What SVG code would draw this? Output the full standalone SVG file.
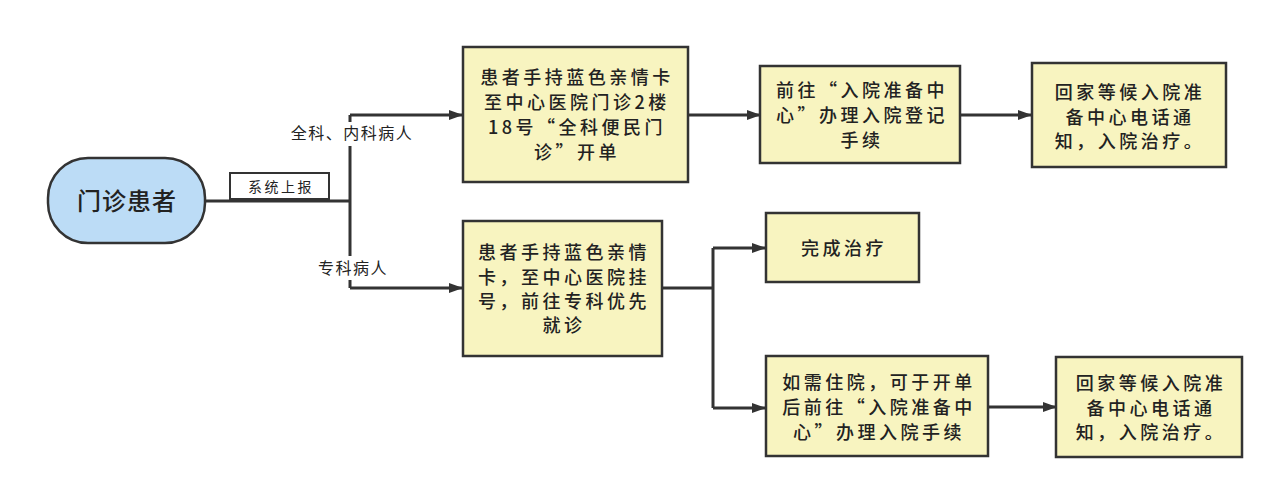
<svg xmlns="http://www.w3.org/2000/svg" width="1274" height="489" viewBox="0 0 1274 489">
<defs>
<marker id="arr" viewBox="0 0 14 10" refX="13" refY="5" markerWidth="14" markerHeight="10" markerUnits="userSpaceOnUse" orient="auto">
<path d="M0,0 L14,5 L0,10 Z" fill="#333"/>
</marker>
<style>
.box{fill:#f8f4c0;stroke:#333;stroke-width:2.5}
.term{fill:#bcdcf6;stroke:#333;stroke-width:2.5}
.ln{fill:none;stroke:#333;stroke-width:3}
.ar{fill:none;stroke:#333;stroke-width:3;marker-end:url(#arr)}
.t{font-family:"Noto Sans CJK SC","Liberation Sans",sans-serif;font-size:18px;font-weight:500;fill:#222;text-anchor:middle;letter-spacing:3.5px}
.lbl{font-family:"Noto Sans CJK SC","Liberation Sans",sans-serif;font-size:16px;fill:#222;text-anchor:middle;letter-spacing:1.5px}
</style>
</defs>
<rect width="1274" height="489" fill="#fff"/>
<g id="connectors">
<path class="ln" d="M205,201 H350"/>
<path class="ln" d="M350,115 V288"/>
<path class="ar" d="M350,115 H462"/>
<path class="ar" d="M350,288 H462"/>
<path class="ar" d="M688,115 H760"/>
<path class="ar" d="M960,115 H1031"/>
<path class="ln" d="M662,288 H713"/>
<path class="ln" d="M713,248 V408"/>
<path class="ar" d="M713,248 H765"/>
<path class="ar" d="M713,408 H765"/>
<path class="ar" d="M988,407 H1056"/>
<g id="label-report">
<rect x="230" y="173" width="99" height="26" fill="#fff" stroke="#333" stroke-width="2"/>
<text class="lbl" x="281" y="192" style="font-size:14px;letter-spacing:2.5px">系统上报</text>
</g>
<g id="label-general">
<rect x="286" y="122" width="130" height="24" fill="#fff"/>
<text class="lbl" x="352" y="139">全科、内科病人</text>
</g>
<g id="label-special">
<rect x="312" y="256" width="80" height="24" fill="#fff"/>
<text class="lbl" x="353" y="274">专科病人</text>
</g>
</g>
<g id="n-patient">
<rect class="term" x="48" y="158" width="157" height="85" rx="40" ry="40"/>
<text class="t" x="127" y="210" style="font-size:24px;font-weight:500;letter-spacing:1px">门诊患者</text>
</g>
<g id="n-general">
<rect class="box" x="463" y="47" width="225" height="135"/>
<text class="t" x="577" y="84">患者手持蓝色亲情卡</text>
<text class="t" x="577" y="109">至中心医院门诊2楼</text>
<text class="t" x="577" y="134">18号“全科便民门</text>
<text class="t" x="577" y="159">诊”开单</text>
</g>
<g id="n-register">
<rect class="box" x="760" y="66" width="200" height="97"/>
<text class="t" x="862" y="97">前往“入院准备中</text>
<text class="t" x="862" y="122">心”办理入院登记</text>
<text class="t" x="862" y="147">手续</text>
</g>
<g id="n-wait1">
<rect class="box" x="1032" y="63" width="194" height="104"/>
<text class="t" x="1130" y="99">回家等候入院准</text>
<text class="t" x="1130" y="124">备中心电话通</text>
<text class="t" x="1130" y="148">知，入院治疗。</text>
</g>
<g id="n-special">
<rect class="box" x="463" y="221" width="199" height="135"/>
<text class="t" x="564" y="259">患者手持蓝色亲情</text>
<text class="t" x="564" y="284">卡，至中心医院挂</text>
<text class="t" x="564" y="308">号，前往专科优先</text>
<text class="t" x="564" y="332">就诊</text>
</g>
<g id="n-done">
<rect class="box" x="766" y="213" width="153" height="69"/>
<text class="t" x="844" y="255">完成治疗</text>
</g>
<g id="n-hosp">
<rect class="box" x="766" y="356" width="222" height="100"/>
<text class="t" x="879" y="389">如需住院，可于开单</text>
<text class="t" x="879" y="414">后前往“入院准备中</text>
<text class="t" x="879" y="439">心”办理入院手续</text>
</g>
<g id="n-wait2">
<rect class="box" x="1056" y="357" width="186" height="100"/>
<text class="t" x="1151" y="390">回家等候入院准</text>
<text class="t" x="1151" y="415">备中心电话通</text>
<text class="t" x="1151" y="439">知，入院治疗。</text>
</g>
</svg>
